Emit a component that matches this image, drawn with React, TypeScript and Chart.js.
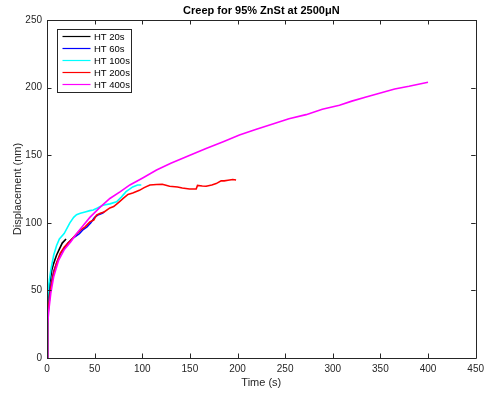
import React, { useEffect, useRef } from "react";
import { Chart, registerables } from "chart.js";

Chart.register(...registerables);

const TITLE = "Creep for 95% ZnSt at 2500μN";
const X_LABEL = "Time (s)";
const Y_LABEL = "Displacement (nm)";
const SERIES_NAMES = ["HT 20s", "HT 60s", "HT 100s", "HT 200s", "HT 400s"];
const SERIES_COLORS = ["#000000", "#0000ff", "#00ffff", "#ff0000", "#ff00ff"];

const t20 = [0, 0.3, 1, 2, 3, 5, 7, 10, 12.6, 16, 20];
const d20 = [0, 22, 35, 48, 56, 65, 70, 76, 80, 85, 88];

const t60 = [0, 0.3, 1, 2, 4, 7, 10, 14, 18, 22, 26, 30, 34, 38, 42, 46, 50, 54, 58, 60];
const d60 = [0, 20, 30, 42, 54, 64, 70, 77, 81, 85, 88, 90, 92, 95, 97, 100, 104, 106, 107, 108];

const t100 = [0, 0.3, 1, 2, 4, 7, 10, 13, 18, 24, 28, 31, 35, 40, 45, 48.5, 53, 58.6, 66, 73, 78, 83, 90, 95, 99];
const d100 = [0, 38, 45, 55, 65, 76, 83, 88, 92, 100, 104, 106, 107, 108, 109, 109.5, 111, 113, 114, 115.6, 119, 123, 126.5, 128, 128];

const t200 = [0, 0.3, 1, 2, 4, 7, 10, 14, 18, 22, 25, 30, 35, 40, 45, 49, 52, 56, 60, 66, 70, 75, 80, 85, 90, 97, 102, 108, 115, 121, 128.7, 137, 142, 149.6, 156.6, 158, 163, 167, 173, 177.6, 182.8, 186, 190, 195, 198.5];
const d200 = [0, 18, 28, 40, 52, 63, 70, 77.5, 82, 85, 87, 91, 94.6, 97, 100.7, 102, 105.7, 107, 108, 111, 112, 115, 118, 121, 122, 124, 126, 128, 128.3, 128.5, 127, 126.5, 125.7, 125, 125, 127.6, 127.2, 127, 128, 129, 131, 131, 131.5, 132, 131.7];

const t400 = [0, 0.3, 1, 2, 4, 7, 12, 18, 25, 31, 38, 45, 55, 66, 77, 87, 100, 115, 130, 150, 167, 185, 202, 219, 237, 254, 272, 289, 307, 320, 335, 350, 365, 380, 400];
const d400 = [0, 12, 25, 36, 48, 60, 72, 80, 86, 92, 98, 104, 111, 118, 123, 128, 133, 139, 144, 150, 155, 160, 165, 169, 173, 177, 180, 184, 187, 190, 193, 196, 199, 201, 204];

const X_TICKS = [0, 50, 100, 150, 200, 250, 300, 350, 400, 450];
const Y_TICKS = [0, 50, 100, 150, 200, 250];

const TIMES = [t20, t60, t100, t200, t400];
const DISPS = [d20, d60, d100, d200, d400];

const FONT = "'Liberation Sans', Arial, Helvetica, sans-serif";
const AXIS_COLOR = "#262626";

const framePlugin = {
  id: "matlabFrame",
  afterDraw(chart: any) {
    const { ctx, chartArea } = chart;
    const { left, right, top, bottom } = chartArea;
    const xs = chart.scales.x;
    const ys = chart.scales.y;
    ctx.save();
    ctx.strokeStyle = AXIS_COLOR;
    ctx.lineWidth = 1;
    ctx.beginPath();
    ctx.rect(Math.round(left) + 0.5, Math.round(top) + 0.5, Math.round(right - left), Math.round(bottom - top));
    ctx.stroke();
    const tl = 4.5;
    ctx.beginPath();
    X_TICKS.forEach((v) => {
      const px = Math.round(xs.getPixelForValue(v)) + 0.5;
      ctx.moveTo(px, bottom);
      ctx.lineTo(px, bottom - tl);
      ctx.moveTo(px, top);
      ctx.lineTo(px, top + tl);
    });
    Y_TICKS.forEach((v) => {
      const py = Math.round(ys.getPixelForValue(v)) + 0.5;
      ctx.moveTo(left, py);
      ctx.lineTo(left + tl, py);
      ctx.moveTo(right, py);
      ctx.lineTo(right - tl, py);
    });
    ctx.stroke();

    // title
    ctx.fillStyle = "#000000";
    ctx.font = `bold 11px ${FONT}`;
    ctx.textAlign = "center";
    ctx.textBaseline = "middle";
    ctx.fillText(TITLE, (left + right) / 2, 11);

    // legend
    const bx = left + 9.5;
    const by = top + 8.5;
    const bw = 74;
    const bh = 63;
    ctx.fillStyle = "#ffffff";
    ctx.fillRect(bx, by, bw, bh);
    ctx.strokeStyle = AXIS_COLOR;
    ctx.lineWidth = 1;
    ctx.strokeRect(Math.round(bx) + 0.5, Math.round(by) + 0.5, bw, bh);
    ctx.font = `9.5px ${FONT}`;
    ctx.textAlign = "left";
    SERIES_NAMES.forEach((name, i) => {
      const yy = by + 8 + i * 12;
      ctx.strokeStyle = SERIES_COLORS[i];
      ctx.lineWidth = 1.2;
      ctx.beginPath();
      ctx.moveTo(bx + 6, yy);
      ctx.lineTo(bx + 34, yy);
      ctx.stroke();
      ctx.fillStyle = "#000000";
      ctx.fillText(name, bx + 37.5, yy + 0.5);
    });
    ctx.restore();
  },
};

export default function App() {
  const canvasRef = useRef<HTMLCanvasElement | null>(null);

  useEffect(() => {
    if (!canvasRef.current) return;
    const datasets = SERIES_NAMES.map((name, i) => ({
      label: name,
      data: TIMES[i].map((t, j) => ({ x: t, y: DISPS[i][j] })),
      borderColor: SERIES_COLORS[i],
      backgroundColor: SERIES_COLORS[i],
      borderWidth: 1.6,
      pointRadius: 0,
      tension: 0,
      fill: false,
      order: 5 - i,
    }));
    const chart = new Chart(canvasRef.current, {
      type: "line",
      data: { datasets },
      options: {
        responsive: false,
        animation: false,
        maintainAspectRatio: false,
        layout: { padding: { top: 20, right: 12, left: 0, bottom: 0 } },
        plugins: {
          legend: { display: false },
          title: { display: false },
          tooltip: { enabled: false },
        },
        scales: {
          x: {
            type: "linear",
            min: 0,
            max: 450,
            afterBuildTicks: (scale: any) => {
              scale.ticks = X_TICKS.map((v) => ({ value: v }));
            },
            afterFit: (scale: any) => {
              scale.height = 38;
            },
            grid: { display: false, drawTicks: false },
            border: { display: false },
            ticks: {
              color: AXIS_COLOR,
              font: { family: FONT, size: 10 },
              padding: 5,
              maxRotation: 0,
              autoSkip: false,
            },
            title: {
              display: true,
              text: X_LABEL,
              color: AXIS_COLOR,
              font: { family: FONT, size: 11 },
              padding: { top: 0, bottom: 6 },
            },
          },
          y: {
            type: "linear",
            min: 0,
            max: 250,
            afterBuildTicks: (scale: any) => {
              scale.ticks = Y_TICKS.map((v) => ({ value: v }));
            },
            afterFit: (scale: any) => {
              scale.width = 47;
            },
            grid: { display: false, drawTicks: false },
            border: { display: false },
            ticks: {
              color: AXIS_COLOR,
              font: { family: FONT, size: 10 },
              padding: 5,
              autoSkip: false,
            },
            title: {
              display: true,
              text: Y_LABEL,
              color: AXIS_COLOR,
              font: { family: FONT, size: 11 },
              padding: { top: 11, bottom: 0 },
            },
          },
        },
      },
      plugins: [framePlugin],
    });
    return () => chart.destroy();
  }, []);

  return (
    <div style={{ position: "fixed", left: 0, top: 0, width: 489, height: 396, background: "#ffffff" }}>
      <canvas ref={canvasRef} width={489} height={396} />
    </div>
  );
}
